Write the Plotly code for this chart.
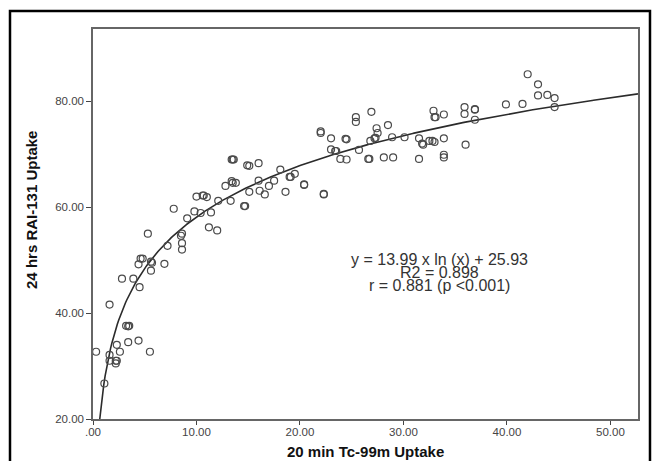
import numpy as np
import plotly.graph_objects as go

# Data (20 min Tc-99m uptake vs 24 hrs RAI-131 uptake)
tc99m = [0.3, 1.1, 1.6, 1.6, 1.6, 2.2, 2.3, 2.2, 2.3, 2.6, 2.8, 3.2, 3.5, 3.4, 3.4, 3.9,
         4.4, 4.5, 4.4, 4.6, 4.8, 5.5, 5.3, 5.6, 5.7, 5.6, 6.9, 7.2, 7.8, 8.6, 8.5, 8.6,
         8.6, 9.1, 9.8, 10.0, 10.4, 10.6, 10.7, 11.0, 11.2, 11.4, 12.0, 12.1, 12.8, 13.3,
         13.4, 13.5, 13.8, 13.4, 13.5, 13.6, 14.6, 14.7, 14.9, 15.1, 15.1, 16.0, 16.0, 16.1,
         16.6, 17.0, 17.5, 18.1, 18.6, 19.0, 19.1, 19.5, 20.4, 20.4, 22.0, 22.0, 22.3, 22.3,
         23.0, 23.0, 23.4, 23.5, 23.9, 24.4, 24.5, 24.5, 25.4, 25.4, 25.7, 26.6, 26.7, 26.8,
         26.9, 27.2, 27.3, 27.4, 27.5, 28.1, 28.5, 28.9, 29.0, 30.1, 31.5, 31.5, 31.8, 31.9,
         32.5, 32.8, 33.0, 32.9, 33.0, 33.1, 33.9, 33.9, 33.9, 33.9, 35.9, 35.9, 36.0, 36.9,
         36.9, 36.9, 39.9, 41.5, 42.0, 43.0, 43.0, 43.9, 44.6, 44.6]
rai131 = [32.7, 26.7, 41.6, 32.1, 31.0, 31.0, 31.0, 30.5, 34.0, 32.7, 46.5, 37.6, 37.6, 37.5, 34.5, 46.5,
          34.8, 44.9, 49.2, 50.3, 50.3, 32.7, 55.0, 49.7, 49.5, 48.0, 49.3, 52.7, 59.7, 55.0, 54.6, 53.2,
          52.0, 57.9, 59.2, 62.0, 58.9, 62.2, 62.2, 61.9, 56.2, 59.0, 55.6, 61.2, 64.0, 61.2,
          64.9, 64.6, 64.6, 69.0, 69.0, 69.0, 60.2, 60.2, 67.9, 67.8, 62.9, 68.3, 65.0, 63.1,
          62.4, 64.0, 65.0, 67.1, 62.9, 65.7, 65.7, 66.3, 64.3, 64.2, 74.3, 74.0, 62.4, 62.5,
          73.0, 70.9, 70.6, 70.6, 69.1, 72.9, 72.8, 69.0, 77.0, 76.1, 70.8, 69.1, 69.1, 72.5,
          78.0, 73.0, 73.1, 74.9, 74.0, 69.4, 75.5, 73.2, 69.4, 73.2, 73.0, 69.1, 72.0, 71.8,
          72.5, 72.5, 72.3, 78.2, 77.0, 77.0, 77.5, 73.0, 69.9, 69.4, 78.9, 77.6, 71.8, 78.5,
          78.4, 76.5, 79.4, 79.5, 85.1, 83.2, 81.1, 81.2, 80.6, 78.9]

# Logarithmic fit reported on the chart
fit_a = 13.99
fit_b = 25.93
fit_labels = ["y = 13.99 x ln (x) + 25.93", "R2 = 0.898", "r = 0.881 (p <0.001)"]

x_title = "20 min Tc-99m Uptake"
y_title = "24 hrs RAI-131 Uptake"

x_ticks = [0, 10, 20, 30, 40, 50]
x_tick_labels = [".00", "10.00", "20.00", "30.00", "40.00", "50.00"]
y_ticks = [20, 40, 60, 80]
y_tick_labels = ["20.00", "40.00", "60.00", "80.00"]

x_range = [0, 52.66]
y_range = [20, 93.64]

FONT = "Arial, Liberation Sans, sans-serif"

x_start = np.exp((y_range[0] - fit_b) / fit_a)
xf = np.linspace(x_start, x_range[1], 400)
yf = fit_a * np.log(xf) + fit_b

fig = go.Figure()
fig.add_trace(go.Scatter(x=xf, y=yf, mode="lines",
                         line=dict(color="#2b2b2b", width=1.6),
                         hoverinfo="skip", showlegend=False))
fig.add_trace(go.Scatter(x=tc99m, y=rai131, mode="markers",
                         marker=dict(symbol="circle-open", size=7,
                                     color="#4a4a4a", line=dict(width=1.2, color="#4a4a4a")),
                         showlegend=False))

# plot area: 93..638 px horizontally, 29..419 px vertically (height 390)
for i, txt in enumerate(fit_labels):
    fig.add_annotation(x=0.635, y=0.408 - i * 0.0333, xref="paper", yref="paper",
                       text=txt, showarrow=False, xanchor="center", yanchor="middle",
                       font=dict(family=FONT, size=16, color="#333333"))

# axis titles
fig.add_annotation(x=0.5, y=-0.0846, xref="paper", yref="paper",
                   text="<b>" + x_title + "</b>", showarrow=False,
                   xanchor="center", yanchor="middle",
                   font=dict(family=FONT, size=15, color="#111111"))
fig.add_annotation(x=-0.1119, y=0.536, xref="paper", yref="paper",
                   text="<b>" + y_title + "</b>", showarrow=False, textangle=-90,
                   xanchor="center", yanchor="middle",
                   font=dict(family=FONT, size=15, color="#111111"))

axis_common = dict(showgrid=False, zeroline=False, automargin=False,
                   showline=True, linecolor="#666666", linewidth=1.5, mirror=True,
                   ticks="outside", tickcolor="#444444", tickwidth=1.2,
                   tickfont=dict(size=11.5, family=FONT, color="#444444"))

fig.update_layout(
    width=655, height=461,
    margin=dict(l=93, r=17, t=29, b=42, autoexpand=False),
    paper_bgcolor="white", plot_bgcolor="white",
    font=dict(family=FONT, color="#333333"),
    xaxis=dict(range=x_range, tickvals=x_ticks, ticktext=x_tick_labels,
               ticklen=4, ticklabelstandoff=-3, **axis_common),
    yaxis=dict(range=y_range, tickvals=y_ticks, ticktext=y_tick_labels,
               ticklen=5, **axis_common),
    shapes=[dict(type="rect", xref="paper", yref="paper",
                 x0=-0.1523, x1=1.022, y0=-0.13, y1=1.0462,
                 line=dict(color="black", width=2.5), fillcolor="rgba(0,0,0,0)",
                 layer="below")],
)

fig.write_html("out.html", config={"displayModeBar": False},
               post_script="document.body.style.margin='0';")
